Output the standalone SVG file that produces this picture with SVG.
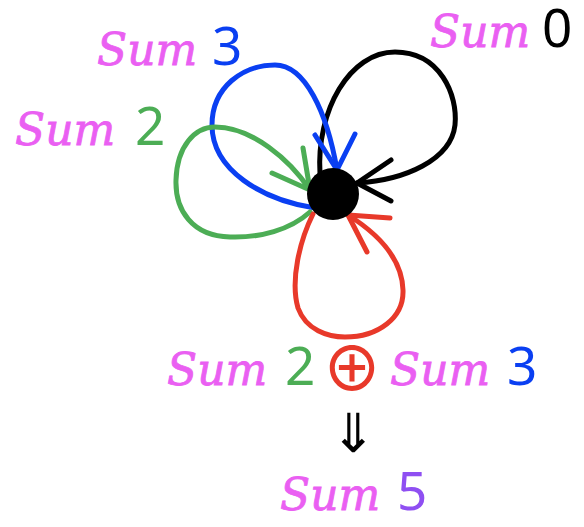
<svg xmlns="http://www.w3.org/2000/svg" width="584" height="527" viewBox="0 0 584 527">
<style>
.sum{font-family:"DejaVu Serif",serif;font-style:italic;font-size:44px;fill:#ea5ff2;stroke:#ea5ff2;stroke-width:0.8}
.num{font-family:"Noto Sans","DejaVu Sans",sans-serif;font-size:53px}
.loop{fill:none;stroke-width:5;stroke-linecap:round;stroke-linejoin:round}
</style>
<rect width="584" height="527" fill="#fff"/>
<g id="connectors">
<g id="loop-sum0" class="loop" stroke="#000">
<path d="M320,174 C316,110 350,52 395,52 C440,52 458,95 455,125 C451,160 405,180 357,183"/>
<path d="M391,160 L357,183 L391,201"/>
</g>
<g id="loop-sum3" class="loop" stroke="#0a3ff2">
<path d="M315,208 C262,200 212,170 212,125 C212,87 243,65 275,65 C305,65 327,112 337,170"/>
<path d="M315,135 L337,170 L355,134"/>
</g>
<g id="loop-sum2" class="loop" stroke="#4cad55">
<path d="M310,212 C290,230 260,238 230,237 C192,236 175,210 176,180 C177,146 195,127 215,127 C252,127 290,160 310,190"/>
<path d="M303,148 L310,190 L272,173"/>
</g>
<g id="loop-sum23" class="loop" stroke="#e8392a">
<path d="M313,214 C300,240 290,280 298,308 C306,330 328,337 345,337 C378,337 404,318 403,290 C402,260 380,235 348,215"/>
<path d="M390,218 L348,215 L367,252"/>
</g>
</g>
<g id="node">
<circle cx="333" cy="194" r="26" fill="#000"/>
</g>
<g id="label-sum0"><text x="430" y="47" class="sum">Sum</text><text x="542" y="47" class="num" fill="#000">0</text></g>
<g id="label-sum3"><text x="97" y="65" class="sum">Sum</text><text x="212" y="65" class="num" fill="#0a3ff2">3</text></g>
<g id="label-sum2"><text x="15" y="145" class="sum">Sum</text><text x="135" y="145" class="num" fill="#4cad55">2</text></g>
<g id="label-combine">
<text x="167" y="385" class="sum">Sum</text><text x="285" y="385" class="num" fill="#4cad55">2</text>
<text x="352" y="391" font-family="Noto Sans CJK SC,DejaVu Sans,sans-serif" font-size="60" font-weight="500" fill="#e8392a" text-anchor="middle">⊕</text>
<text x="390" y="385" class="sum">Sum</text><text x="507" y="385" class="num" fill="#0a3ff2">3</text>
</g>
<g id="label-implies"><text x="353" y="452" font-family="DejaVu Sans,sans-serif" font-size="54" fill="#000" text-anchor="middle">⇓</text></g>
<g id="label-sum5"><text x="280" y="510" class="sum">Sum</text><text x="397" y="510" class="num" fill="#8f4ff2">5</text></g>
</svg>
